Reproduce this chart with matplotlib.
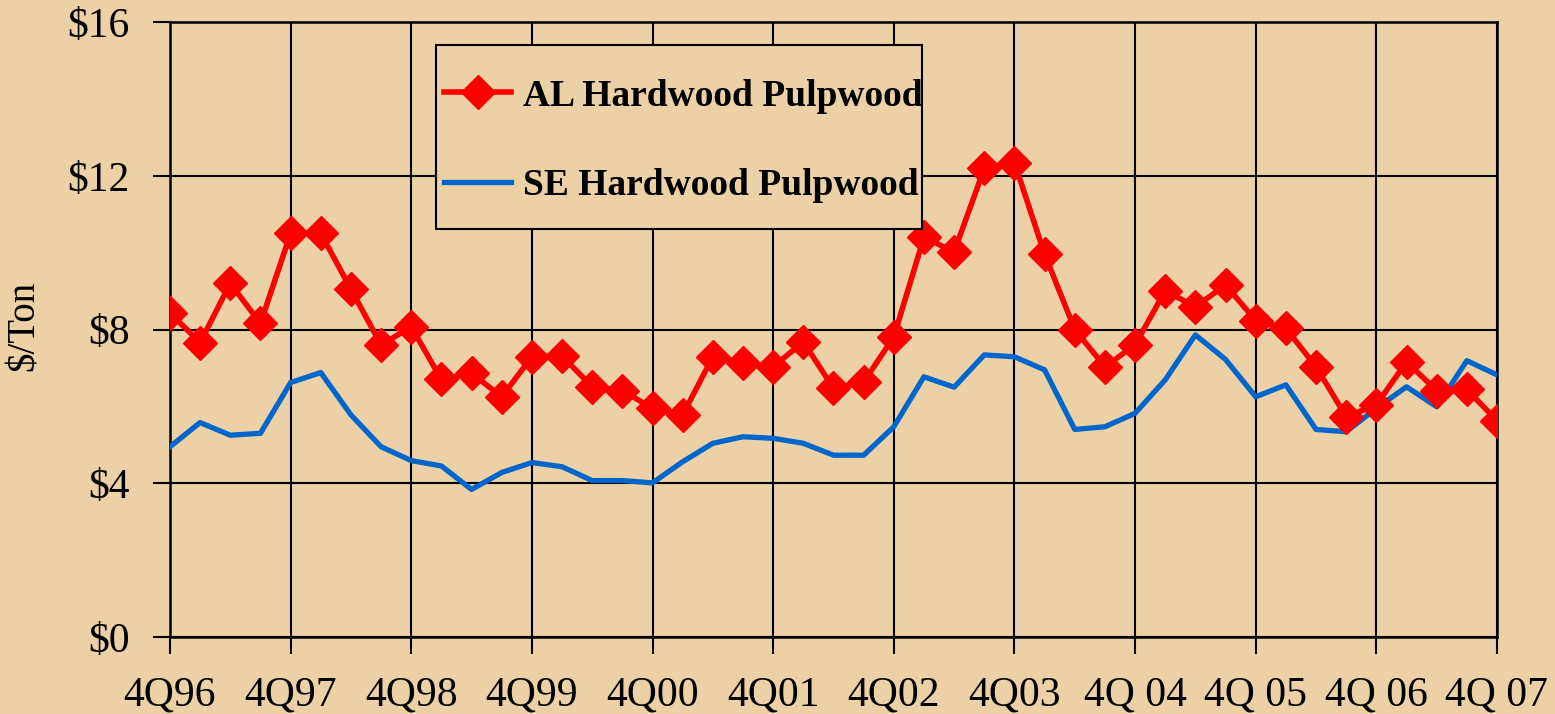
import matplotlib
matplotlib.use('Agg')
import matplotlib.pyplot as plt
from matplotlib.patches import Rectangle
import numpy as np

# quarterly prices, 4Q96 .. 4Q07
al_hardwood = [8.43, 7.66, 9.20, 8.16, 10.50, 10.50, 9.05, 7.60, 8.07, 6.70,
               6.86, 6.25, 7.29, 7.31, 6.51, 6.41, 5.95, 5.78, 7.29, 7.14,
               7.03, 7.68, 6.47, 6.63, 7.81, 10.40, 10.02, 12.19, 12.34, 9.96,
               8.00, 7.03, 7.60, 9.01, 8.59, 9.16, 8.23, 8.03, 7.03, 5.73,
               6.04, 7.16, 6.41, 6.44, 5.63]
se_hardwood = [4.95, 5.58, 5.25, 5.30, 6.62, 6.88, 5.78, 4.95, 4.59, 4.45,
               3.84, 4.28, 4.54, 4.43, 4.07, 4.07, 4.01, 4.56, 5.04, 5.21,
               5.17, 5.04, 4.73, 4.73, 5.47, 6.77, 6.50, 7.34, 7.29, 6.95,
               5.40, 5.47, 5.82, 6.69, 7.86, 7.22, 6.25, 6.56, 5.40, 5.34,
               5.95, 6.51, 5.99, 7.19, 6.82]
year_labels = ['4Q96', '4Q97', '4Q98', '4Q99', '4Q00', '4Q01', '4Q02', '4Q03',
               '4Q 04', '4Q 05', '4Q 06', '4Q 07']
y_ticks = [0, 4, 8, 12, 16]

bg = '#ECD1A6'
plt.rcParams['font.family'] = ['Liberation Serif', 'DejaVu Serif']

fig = plt.figure(figsize=(15.55, 7.14), dpi=100, facecolor=bg)
ax = fig.add_axes([0.1093, 0.1078, 0.8534, 0.8614], facecolor=bg)

x = np.arange(len(al_hardwood))
ax.plot(x, al_hardwood, color='#FF0000', lw=4.0, marker='D', ms=17,
        label='AL Hardwood Pulpwood', zorder=4)
ax.plot(x, se_hardwood, color='#0066CC', lw=3.8,
        label='SE Hardwood Pulpwood', zorder=3)

ax.set_xlim(0, len(x) - 1)
ax.set_ylim(0, 16)
ax.set_xticks(np.arange(0, len(x), 4))
ax.set_xticklabels(year_labels)
ax.set_yticks(y_ticks)
ax.set_yticklabels([r'\$%d' % v for v in y_ticks])
ax.grid(True, color='black', lw=1.5)
ax.set_axisbelow(True)
for s in ax.spines.values():
    s.set_color('black')
    s.set_linewidth(1.8)
ax.tick_params(axis='both', direction='out', length=12, width=1.5,
               labelsize=30, colors='black')
ax.tick_params(axis='x', pad=16)
ax.tick_params(axis='y', pad=17)
ax.set_ylabel(r'\$/Ton', fontsize=28)
ax.yaxis.set_label_coords(-0.0957, 0.5065)

# legend box drawn separately so the padding can match
ax.add_patch(Rectangle((0.2005, 0.6634), 0.3662, 0.2992, transform=ax.transAxes,
                       facecolor=bg, edgecolor='black', lw=1.5, zorder=5))
leg = ax.legend(loc='upper left', bbox_to_anchor=(0.2065, 0.908),
                borderaxespad=0, borderpad=0, fontsize=27, frameon=False,
                handlelength=1.8, labelspacing=1.45, handletextpad=0.3)
leg.set_zorder(6)
for t in leg.get_texts():
    t.set_fontweight('bold')

fig.savefig('out.png', dpi=100, facecolor=bg)
